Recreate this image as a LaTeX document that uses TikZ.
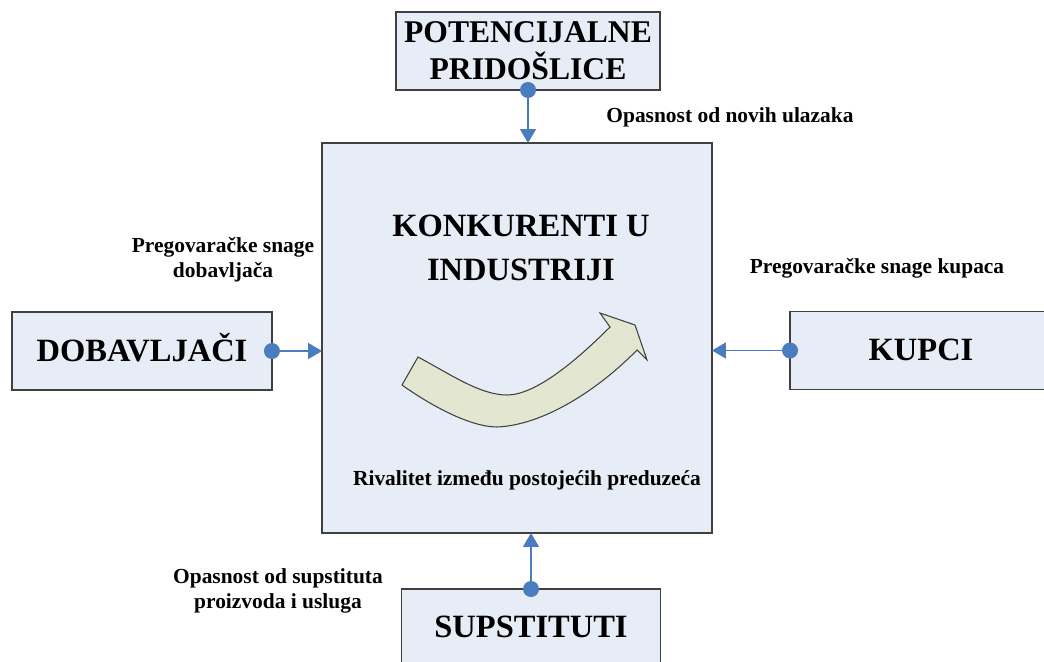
\documentclass[tikz,border=0pt]{standalone}
\usepackage{fontspec}
\setmainfont{Liberation Serif}
\usetikzlibrary{positioning, arrows.meta}

\definecolor{boxfill}{HTML}{E7EDF6}
\definecolor{boxline}{HTML}{404040}
\definecolor{linkblue}{HTML}{4A7CC0}
\definecolor{bendfill}{HTML}{E3E6D1}

\begin{document}
\begin{tikzpicture}[
    x=0.02cm, y=-0.02cm,
    force/.style = {draw=boxline, fill=boxfill, line width=0.8pt, inner sep=0pt, outer sep=0pt,
                    align=center, font=\bfseries\fontsize{18.5}{21}\selectfont},
    title/.style = {align=center, inner sep=0pt, font=\bfseries\fontsize{18.5}{25}\selectfont},
    note/.style = {align=center, inner sep=0pt, font=\bfseries\fontsize{12.2}{14.2}\selectfont},
    link/.style = {draw=linkblue, line width=0.9pt, -{Triangle[length=0.28cm, width=0.32cm]}},
    dot/.style = {circle, fill=linkblue, minimum size=0.32cm, inner sep=0pt}
]
    \useasboundingbox (0,0) rectangle (1044,662);
    \clip (0,0) rectangle (1044,662);

    % the five forces
    \node [force, minimum width=7.8cm, minimum height=7.8cm] (rivals) at (517,338) {};
    \node [force, minimum width=5.28cm, minimum height=1.56cm, font=\bfseries\fontsize{18}{21}\selectfont] (entrants) at (528,51) {POTENCIJALNE\\PRIDOŠLICE};
    \node [force, minimum width=5.2cm, minimum height=1.56cm, text height=0.42cm, text depth=0pt] (suppliers) at (142,351) {DOBAVLJAČI};
    \node [force, minimum width=5.24cm, minimum height=1.56cm, text height=0.42cm, text depth=0pt] (buyers) at (921,350.5) {KUPCI};
    \node [force, minimum width=5.18cm, minimum height=1.56cm, text height=0.42cm, text depth=0.06cm] (substitutes) at (531,628) {SUPSTITUTI};

    \node [title] (rivalstitle) at (521,248) {KONKURENTI U\\INDUSTRIJI};

    % curved arrow
    \draw [draw=boxline, fill=bendfill, line width=0.6pt, line join=miter]
        (418,357) .. controls (450,374) and (480,395) .. (507,395)
        .. controls (535,395) and (575,362) .. (610,327)
        -- (600,313) -- (635,325) -- (647,360) -- (637,350)
        .. controls (600,388) and (545,425) .. (497,427)
        .. controls (470,427) and (430,405) .. (402,385) -- cycle;

    % labels
    \node [note] (entrantsnote) at (730,117) {Opasnost od novih ulazaka};
    \node [note] (suppliersnote) at (223,260) {Pregovaračke snage\\dobavljača};
    \node [note] (buyersnote) at (877,268) {Pregovaračke snage kupaca};
    \node [note] (rivalsnote) at (527,480) {Rivalitet između postojećih preduzeća};
    \node [note] (substitutesnote) at (278,591) {Opasnost od supstituta\\proizvoda i usluga};

    % connectors
    \draw [link] (entrants.south) -- (entrants.south |- rivals.north);
    \draw [link] (suppliers.east) -- (rivals.west |- suppliers.east);
    \draw [link] (buyers.west) -- (rivals.east |- buyers.west);
    \draw [link] (substitutes.north) -- (substitutes.north |- rivals.south);

    \node [dot] (entrantsdot) at (entrants.south) {};
    \node [dot] (suppliersdot) at (suppliers.east) {};
    \node [dot] (buyersdot) at (buyers.west) {};
    \node [dot] (substitutesdot) at (substitutes.north) {};
\end{tikzpicture}
\end{document}
